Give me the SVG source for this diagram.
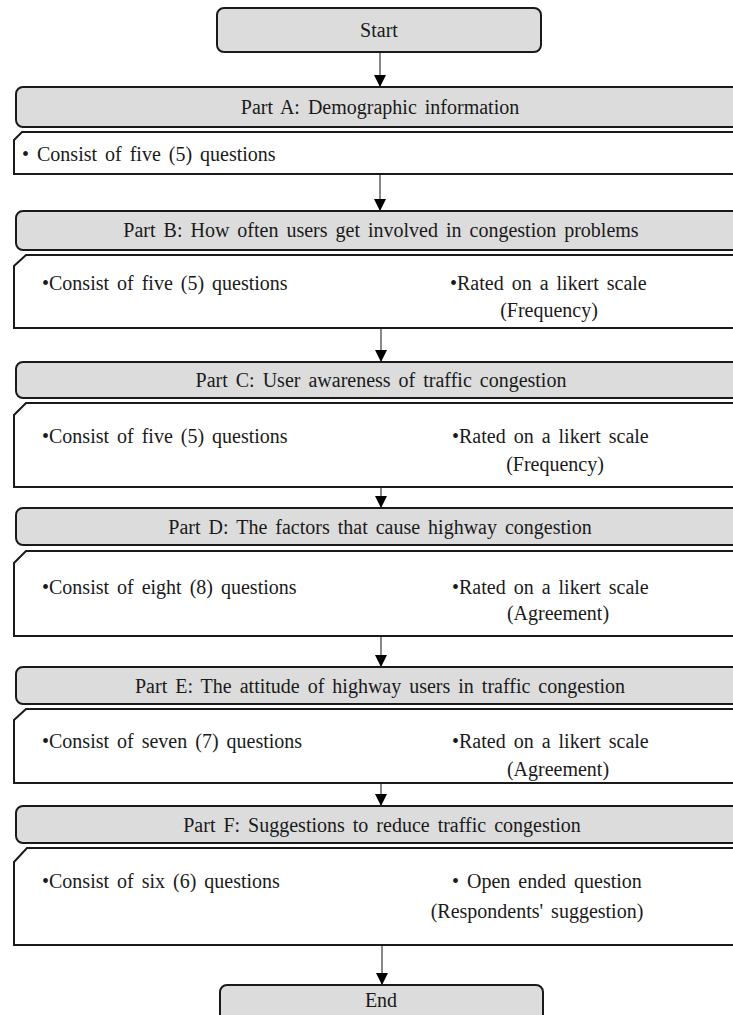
<svg xmlns="http://www.w3.org/2000/svg" width="733" height="1015" viewBox="0 0 733 1015">
<style>
.hdr{fill:#dcdcdc;stroke:#1a1a1a;stroke-width:2}
.box{fill:#ffffff;stroke:#1a1a1a;stroke-width:2}
.t{font-family:"Liberation Serif","Times New Roman",serif;font-size:20px;fill:#1a1a1a;word-spacing:3px}
.c{text-anchor:middle}
.ln{stroke:#3a3a3a;stroke-width:1.2;fill:none}
</style>
<defs>
<marker id="ah" viewBox="0 0 12 12" refX="12" refY="6" markerWidth="12" markerHeight="12" markerUnits="userSpaceOnUse" orient="auto">
<path d="M0,0 L12,6 L0,12 Z" fill="#000"/>
</marker>
</defs>
<rect width="733" height="1015" fill="#fff"/>
<g id="connectors">
<line class="ln" x1="380" y1="52" x2="380" y2="87" marker-end="url(#ah)"/>
<line class="ln" x1="380" y1="174" x2="380" y2="211" marker-end="url(#ah)"/>
<line class="ln" x1="381" y1="328" x2="381" y2="362" marker-end="url(#ah)"/>
<line class="ln" x1="381" y1="487" x2="381" y2="508" marker-end="url(#ah)"/>
<line class="ln" x1="381" y1="636" x2="381" y2="667" marker-end="url(#ah)"/>
<line class="ln" x1="381" y1="783" x2="381" y2="806" marker-end="url(#ah)"/>
<line class="ln" x1="382" y1="945" x2="382" y2="985" marker-end="url(#ah)"/>
</g>
<g id="start">
<rect class="hdr" x="217" y="8" width="324" height="44" rx="7"/>
<text class="t c" x="379" y="37">Start</text>
</g>
<g id="partA">
<rect class="hdr" x="16" y="87" width="740" height="40" rx="7"/>
<text class="t c" x="380" y="114">Part A: Demographic information</text>
</g>
<g id="partA-body">
<path class="box" d="M14,140 L22,132 H760 V174 H14 Z"/>
<text class="t" x="22" y="161">•  Consist of five (5) questions</text>
</g>
<g id="partB">
<rect class="hdr" x="16" y="211" width="740" height="39" rx="7"/>
<text class="t c" x="381" y="237">Part B: How often users get involved in congestion problems</text>
</g>
<g id="partB-body">
<path class="box" d="M14,266 L26,255 H760 V328 H14 Z"/>
<text class="t" x="42" y="290">•Consist of five (5) questions</text>
<text class="t" x="450" y="290">•Rated on a likert  scale</text>
<text class="t c" x="549" y="317">(Frequency)</text>
</g>
<g id="partC">
<rect class="hdr" x="16" y="362" width="740" height="36" rx="7"/>
<text class="t c" x="381" y="387">Part C: User awareness of traffic congestion</text>
</g>
<g id="partC-body">
<path class="box" d="M14,415 L26,403 H760 V487 H14 Z"/>
<text class="t" x="42" y="443">•Consist of five (5) questions</text>
<text class="t" x="452" y="443">•Rated on a likert scale</text>
<text class="t c" x="555" y="471">(Frequency)</text>
</g>
<g id="partD">
<rect class="hdr" x="16" y="508" width="740" height="37" rx="7"/>
<text class="t c" x="380" y="534">Part D: The factors that cause highway congestion</text>
</g>
<g id="partD-body">
<path class="box" d="M14,563 L26,551 H760 V636 H14 Z"/>
<text class="t" x="42" y="594">•Consist of eight (8) questions</text>
<text class="t" x="452" y="594">•Rated on a likert scale</text>
<text class="t c" x="558" y="620">(Agreement)</text>
</g>
<g id="partE">
<rect class="hdr" x="16" y="667" width="740" height="37" rx="7"/>
<text class="t c" x="380" y="693">Part E: The attitude of highway users in traffic congestion</text>
</g>
<g id="partE-body">
<path class="box" d="M14,720 L26,709 H760 V783 H14 Z"/>
<text class="t" x="42" y="748">•Consist of seven (7) questions</text>
<text class="t" x="452" y="748">•Rated on a likert scale</text>
<text class="t c" x="558" y="776">(Agreement)</text>
</g>
<g id="partF">
<rect class="hdr" x="16" y="806" width="740" height="37" rx="7"/>
<text class="t c" x="382" y="832">Part F: Suggestions to reduce traffic congestion</text>
</g>
<g id="partF-body">
<path class="box" d="M14,862 L27,848 H760 V945 H14 Z"/>
<text class="t" x="42" y="888">•Consist of six (6) questions</text>
<text class="t" x="452" y="888">• Open ended question</text>
<text class="t c" x="537" y="918">(Respondents' suggestion)</text>
</g>
<g id="end">
<rect class="hdr" x="220" y="985" width="323" height="50" rx="7"/>
<text class="t c" x="381" y="1007">End</text>
</g>
</svg>
